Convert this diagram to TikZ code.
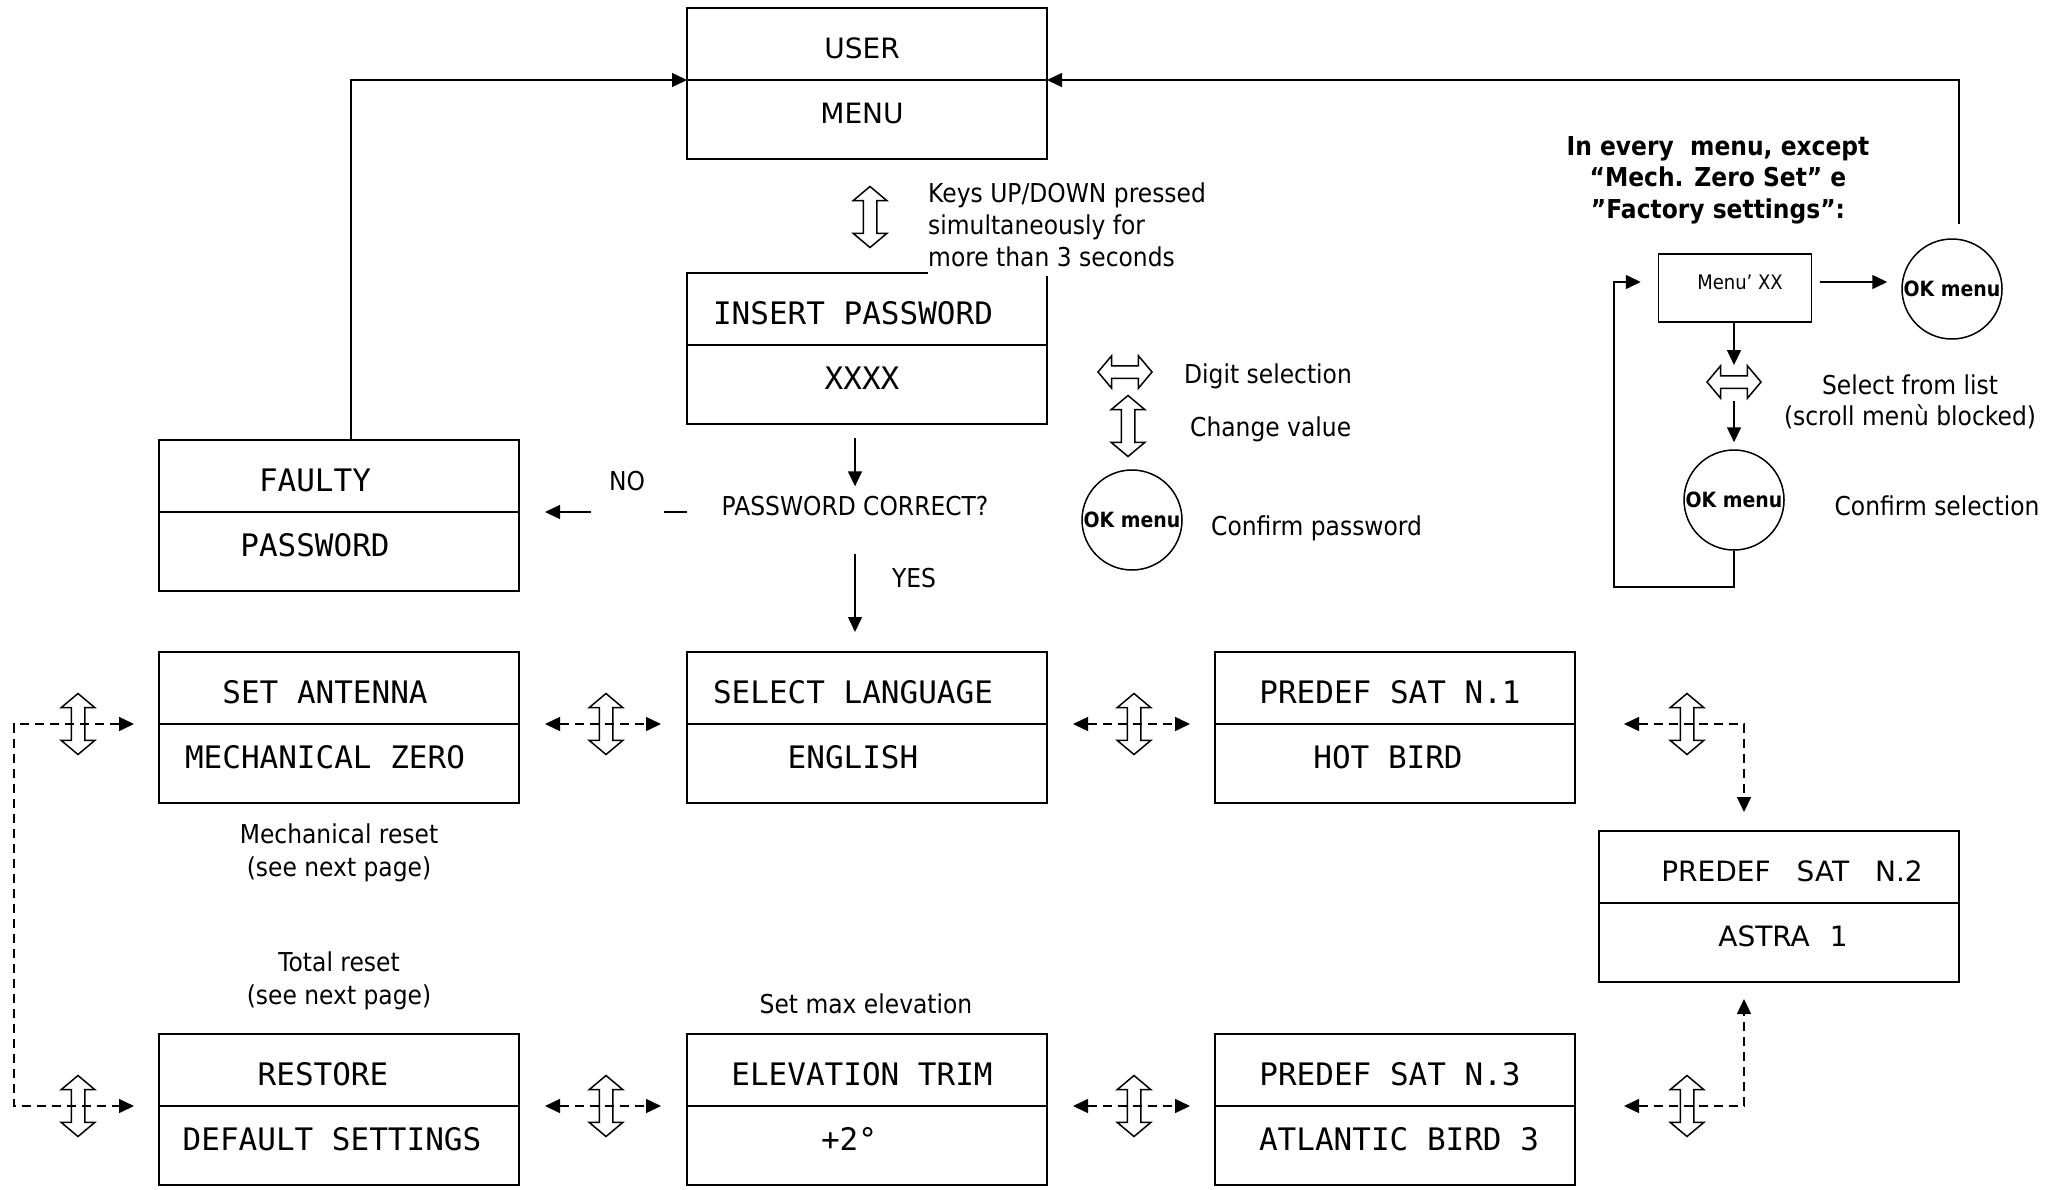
\documentclass[tikz,border=0pt]{standalone}
\usepackage{fontspec}
\setmainfont{DejaVu Sans}
\newfontfamily\lblfont[FakeStretch=0.9]{DejaVu Sans}
\newfontfamily\boxmono{DejaVu Sans Mono}
\usetikzlibrary{arrows.meta,shapes.arrows,calc}
\newcommand\menubox[8]{%
  \node[mbox] (#1) at (#2,#3) {};
  \coordinate (#1-dl) at ($(#1.north west)+(0,72)$);
  \coordinate (#1-dr) at ($(#1.north east)+(0,72)$);
  \draw[boxline] (#1-dl) -- (#1-dr);
  \node[#4] (#1-t) at ($(#1.north)+(#6,40)$) {#5};
  \node[#4] (#1-b) at ($(#1.north)+(#8,105)$) {#7};
}
\begin{document}
\begin{tikzpicture}[x=1pt,y=-1pt,
  boxline/.style={line width=1.8pt},
  mbox/.style={draw, line width=1.8pt, minimum width=360pt, minimum height=151pt, inner sep=0pt, outer sep=0pt, anchor=north west},
  mtxt/.style={font=\boxmono\fontsize{31}{37}\selectfont, inner sep=0pt, text height=22.5pt, text depth=0pt},
  stxt/.style={font=\fontsize{28}{34}\selectfont, inner sep=0pt, text height=20.5pt, text depth=0pt},
  lbl/.style={font=\lblfont\fontsize{26}{31.5}\selectfont, inner sep=0pt, text height=19pt, text depth=0pt},
  blbl/.style={lbl, font=\lblfont\bfseries\fontsize{26}{31.5}\selectfont},
  okc/.style={circle, draw, line width=1.5pt, minimum size=100pt, inner sep=0pt,
     font=\lblfont\bfseries\fontsize{21}{25}\selectfont},
  arr/.style={line width=1.5pt, -{Triangle[length=15pt,width=14pt]}},
  dasharr/.style={line width=1.5pt, dash pattern=on 9pt off 6pt,
     {Triangle[length=15pt,width=14pt]}-{Triangle[length=15pt,width=14pt]}},
  hdar/.style={double arrow, draw, line width=1.5pt, minimum height=54pt,
     double arrow head extend=10pt, double arrow tip angle=100,
     inner xsep=0pt, inner ysep=5.5pt, text height=0pt, text depth=0pt},
  vdar/.style={hdar, minimum height=61pt, inner ysep=6pt, rotate=90}
]
\fill[white] (0,0) rectangle (2060,1189);
\useasboundingbox (0,0) rectangle (2060,1189);

% ---- menu boxes
\menubox{user}{687}{8}{stxt}{USER}{-5}{MENU}{-5}
\menubox{insert}{687}{273}{mtxt}{INSERT PASSWORD}{-14}{XXXX}{-5}
\menubox{faulty}{159}{440}{mtxt}{FAULTY}{-24}{PASSWORD}{-24}
\menubox{setant}{159}{652}{mtxt}{SET ANTENNA}{-14}{MECHANICAL ZERO}{-14}
\menubox{select}{687}{652}{mtxt}{SELECT LANGUAGE}{-14}{ENGLISH}{-14}
\menubox{satone}{1215}{652}{mtxt}{PREDEF SAT N.1}{-5}{HOT BIRD}{-7}
\menubox{sattwo}{1599}{831}{stxt}{PREDEF\hspace{26pt}SAT\hspace{26pt}N.2}{13}{ASTRA\hspace{20pt}1}{4}
\menubox{restore}{159}{1034}{mtxt}{RESTORE}{-16}{DEFAULT SETTINGS}{-7}
\menubox{elev}{687}{1034}{mtxt}{ELEVATION TRIM}{-5}{+2°}{-18}
\menubox{satthree}{1215}{1034}{mtxt}{PREDEF SAT N.3}{-5}{ATLANTIC BIRD 3}{4}

% ---- top area
\node[vdar] (vkeys) at (870,217) {};
\node[lbl, anchor=west] (keys1) at (928,193) {Keys UP/DOWN pressed};
\node[lbl, anchor=west] (keys2) at (928,225) {simultaneously for};
\node[lbl, anchor=base west, fill=white, text depth=9pt] (keys3) at (928,266.5) {more than 3 seconds};

% ---- legend
\node[hdar] (hdigit) at (1125,372) {};
\node[vdar] (vchange) at (1128,426) {};
\node[okc] (okpw) at (1132,520) {OK menu};
\node[lbl, anchor=west] (digit) at (1184,374) {Digit selection};
\node[lbl, anchor=west] (change) at (1190,427) {Change value};
\node[lbl, anchor=west] (confpw) at (1211,526) {Confirm password};

% ---- password check
\node[lbl] (pc) at (855,506) {PASSWORD CORRECT?};
\node[lbl] (yes) at (914,578) {YES};
\draw[arr] ($(pc |- insert.south)+(0,14)$) -- ($(pc.north)+(0,-10)$);
\draw[arr] ($(pc.south)+(0,38)$) -- ($(pc |- select.north)+(0,-20)$);
\draw[arr, shorten >=26pt] (insert.west |- faulty-dr) -- (faulty-dr);
\node[lbl, fill=white, minimum width=73pt, minimum height=68pt] (no) at (627,481) {NO};
\draw[arr] ($(faulty.north)+(12,0)$) |- (user-dl);

% ---- notes
\node[lbl] (mech1) at (339,834) {Mechanical reset};
\node[lbl] (mech2) at (339,867) {(see next page)};
\node[lbl] (total1) at (339,962) {Total reset};
\node[lbl] (total2) at (339,995) {(see next page)};
\node[lbl] (setmax) at (866,1004) {Set max elevation};

% ---- dashed navigation
\draw[dasharr] ($(setant-dl)+(-25,0)$) -- ($(setant-dl)+(-145,0)$) |- ($(restore-dl)+(-25,0)$);
\draw[dasharr] ($(setant-dr)+(26,0)$) -- ($(select-dl)+(-26,0)$);
\draw[dasharr] ($(select-dr)+(26,0)$) -- ($(satone-dl)+(-25,0)$);
\draw[dasharr] ($(satone-dr)+(49,0)$) -| ($(sattwo.north)+(-35,-19)$);
\draw[dasharr] ($(restore-dr)+(26,0)$) -- ($(elev-dl)+(-26,0)$);
\draw[dasharr] ($(elev-dr)+(26,0)$) -- ($(satthree-dl)+(-25,0)$);
\draw[dasharr] ($(satthree-dr)+(49,0)$) -| ($(sattwo.south)+(-35,17)$);
\node[vdar] (nv1) at (78,724) {};
\node[vdar] (nv2) at (606,724) {};
\node[vdar] (nv3) at (1134,724) {};
\node[vdar] (nv4) at (1687,724) {};
\node[vdar] (nv5) at (78,1106) {};
\node[vdar] (nv6) at (606,1106) {};
\node[vdar] (nv7) at (1134,1106) {};
\node[vdar] (nv8) at (1687,1106) {};

% ---- right panel
\node[blbl] (title1) at (1718,146) {In every\ \ menu, except};
\node[blbl] (title2) at (1718,177) {“Mech. Zero Set” e};
\node[blbl] (title3) at (1718,209) {”Factory settings”:};
\node[draw, line width=1.5pt, minimum width=153pt, minimum height=68pt, inner sep=0pt] (menuxx) at (1735,288) {};
\node[lbl, font=\lblfont\fontsize{20}{24}\selectfont, text height=14.6pt] (menuxx-t) at (1740,282) {Menu’ XX};
\node[okc] (ok1) at (1952,289) {OK menu};
\node[hdar] (hsel) at (1734,382) {};
\node[okc] (ok2) at (1734,500) {OK menu};
\node[lbl] (sel1) at (1910,385) {Select from list};
\node[lbl] (sel2) at (1910,416) {(scroll menù blocked)};
\node[lbl] (confsel) at (1937,506) {Confirm selection};

\draw[arr, shorten <=8pt, shorten >=14pt] (menuxx-t.east -| menuxx.east) -- (menuxx-t.east -| ok1.west);
\draw[arr] (hsel |- menuxx.south) -- ($(hsel.center)+(0,-17)$);
\draw[arr] ($(hsel.center)+(0,19)$) -- ($(ok2.north)+(0,-7)$);
\draw[arr] (ok2.south) -- ($(ok2.south)+(0,36)$) -| ($(menuxx-t.west -| menuxx.west)+(-44,0)$) -- ($(menuxx-t.west -| menuxx.west)+(-17,0)$);
\draw[arr] ($(ok1.north)+(7,-14)$) |- (user-dr);
\end{tikzpicture}
\end{document}
